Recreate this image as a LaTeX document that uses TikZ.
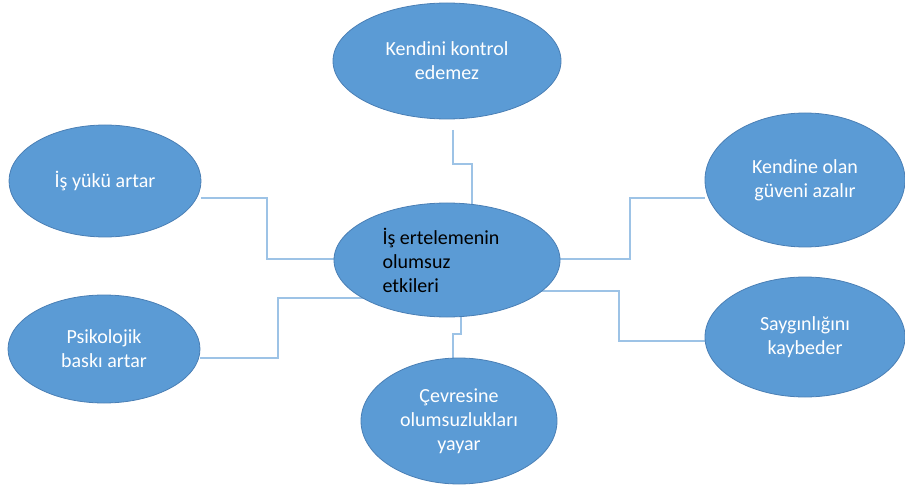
\documentclass[tikz,border=0pt]{standalone}
\usepackage{fontspec}
\setmainfont{Carlito}
\usetikzlibrary{shapes.geometric,backgrounds}
\definecolor{bubblefill}{HTML}{5B9BD5}
\definecolor{bubbleedge}{HTML}{4A7FB5}
\definecolor{linkblue}{HTML}{9DC3E6}
\begin{document}
\begin{tikzpicture}[x=1pt,y=-1pt,
  bubble/.style={ellipse, draw=bubbleedge, line width=0.8pt, fill=bubblefill,
    inner sep=0pt, align=center, text=white,
    font=\fontsize{20}{24}\selectfont},
  link/.style={draw=linkblue, line width=1.6pt}]
\useasboundingbox (0,0) rectangle (905,489);
\clip (0,0) rectangle (905,489);

% central topic
\node[bubble, text=black, align=left, minimum width=226pt, minimum height=114pt]
  (core) at (447,260) {İş ertelemenin\hspace*{12pt}\\olumsuz\\etkileri};

% surrounding effects
\node[bubble, minimum width=228pt, minimum height=116pt] (control) at (447,61)
  {Kendini kontrol\\edemez};
\node[bubble, minimum width=192pt, minimum height=112pt] (work) at (105,181)
  {İş yükü artar};
\node[bubble, minimum width=192pt, minimum height=108pt] (stress) at (104,349)
  {Psikolojik\\baskı artar};
\node[bubble, minimum width=196pt, minimum height=126pt] (spread) at (459,421)
  {Çevresine\\olumsuzlukları\\yayar};
\node[bubble, minimum width=200pt, minimum height=134pt] (trust) at (805,180)
  {Kendine olan\\güveni azalır};
\node[bubble, minimum width=200pt, minimum height=120pt] (respect) at (805,337)
  {Saygınlığını\\kaybeder};

% elbow connectors, kept behind the bubbles
\coordinate (cstart) at (453,130);
\begin{pgfonlayer}{background}
  \draw[link] (cstart) |- (472,164) -- (core.center -| 472,0);
  \draw[link] (work.east |- 0,198) -- (267,198) |- (core.center |- 0,259);
  \draw[link] (stress.east |- 0,358) -- (278,358) |- (core.center |- 0,298);
  \draw[link] (core.center |- 0,259) -- (630,259) |- (trust.west |- 0,198);
  \draw[link] (core.center |- 0,291) -- (619,291) |- (respect.west |- 0,341);
  \draw[link] (core.center -| 461,0) -- (461,334) -| (spread.center -| 453,0);
\end{pgfonlayer}
\end{tikzpicture}
\end{document}
